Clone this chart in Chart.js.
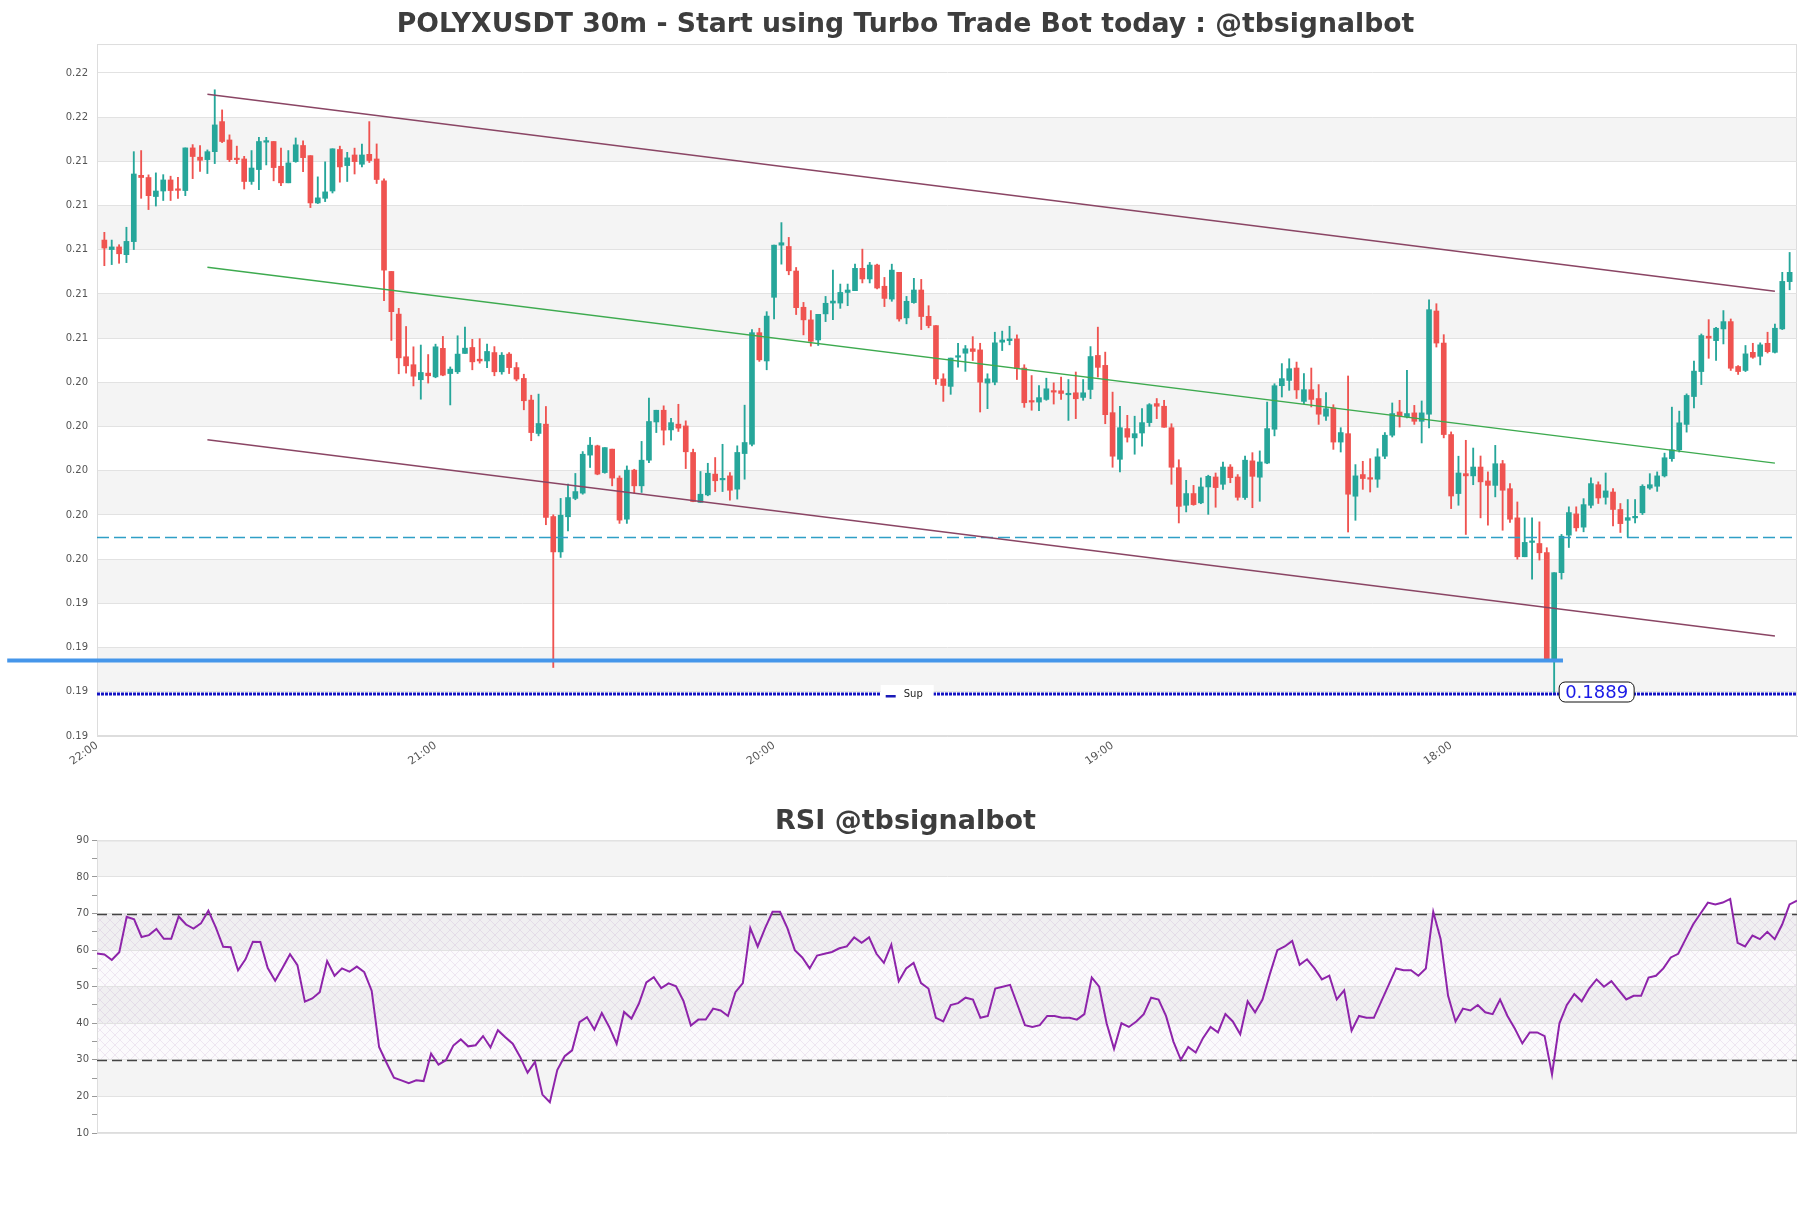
<!DOCTYPE html>
<html>
<head>
<meta charset="utf-8">
<script src="https://cdn.jsdelivr.net/npm/chart.js@4.4.1/dist/chart.umd.min.js"></script>
<style>
  body { margin: 0; background: #fff; }
  #main_box { position: absolute; left: 0; top: 0; width: 1811px; height: 800px; }
  #rsi_box { position: absolute; left: 0; top: 800px; width: 1811px; height: 408px; }
</style>
</head>
<body>
<div id="main_box"><canvas id="main_chart" width="1811" height="800"></canvas></div>
<div id="rsi_box"><canvas id="rsi_chart" width="1811" height="408"></canvas></div>
<script>
// candles, 30m (index 0 = first candle)
var opens = [
  0.20944,0.20901,0.20913,0.20878,0.20937,0.21237,0.21227,0.21141,0.21166,0.21216,
  0.21175,0.21168,0.21361,0.21319,0.21308,0.21344,0.21480,0.21397,0.21311,0.21311,
  0.21209,0.21263,0.21387,0.21390,0.21278,0.21203,0.21299,0.21372,0.21326,0.21112,
  0.21133,0.21166,0.21354,0.21281,0.21329,0.21287,0.21332,0.21311,0.21212,0.20802,
  0.20609,0.20416,0.20380,0.20312,0.20342,0.20325,0.20454,0.20340,0.20348,0.20431,
  0.20458,0.20405,0.20397,0.20435,0.20348,0.20428,0.20367,0.20318,0.20220,0.20069,
  0.20111,0.19693,0.19533,0.19692,0.19775,0.19799,0.19971,0.20013,0.19892,0.19998,
  0.19867,0.19681,0.19903,0.19832,0.19948,0.20121,0.20174,0.20085,0.20111,0.20103,
  0.19983,0.19757,0.19791,0.19885,0.19859,0.19877,0.19817,0.19978,0.20020,0.20525,
  0.20397,0.20685,0.20921,0.20915,0.20804,0.20640,0.20583,0.20492,0.20610,0.20659,
  0.20659,0.20707,0.20715,0.20816,0.20768,0.20831,0.20735,0.20677,0.20798,0.20592,
  0.20661,0.20718,0.20599,0.20557,0.20316,0.20282,0.20414,0.20432,0.20452,0.20447,
  0.20297,0.20301,0.20482,0.20489,0.20497,0.20365,0.20216,0.20211,0.20223,0.20262,
  0.20262,0.20244,0.20253,0.20232,0.20268,0.20422,0.20377,0.20163,0.19952,0.20091,
  0.20049,0.20071,0.20118,0.20204,0.20192,0.20095,0.19914,0.19744,0.19797,0.19755,
  0.19827,0.19872,0.19839,0.19917,0.19872,0.19779,0.19945,0.19871,0.19935,0.20088,
  0.20285,0.20309,0.20365,0.20214,0.20267,0.20227,0.20147,0.20184,0.20030,0.20068,
  0.19785,0.19883,0.19869,0.19862,0.19966,0.20061,0.20166,0.20144,0.20162,0.20124,
  0.20156,0.20623,0.20478,0.20064,0.19797,0.19887,0.19877,0.19917,0.19854,0.19834,
  0.19932,0.19819,0.19687,0.19511,0.19576,0.19571,0.19530,0.19044,0.19439,0.19609,
  0.19705,0.19645,0.19744,0.19837,0.19780,0.19804,0.19725,0.19676,0.19687,0.19710,
  0.19822,0.19830,0.19877,0.19955,0.19995,0.20110,0.20236,0.20349,0.20509,0.20489,
  0.20542,0.20575,0.20372,0.20354,0.20436,0.20418,0.20477,0.20436,0.20542,0.20756
];
var highs = [
  0.20979,0.20944,0.20923,0.21002,0.21344,0.21349,0.21239,0.21248,0.21240,0.21233,
  0.21228,0.21361,0.21376,0.21372,0.21352,0.21624,0.21533,0.21420,0.21369,0.21323,
  0.21349,0.21409,0.21409,0.21390,0.21360,0.21349,0.21406,0.21393,0.21326,0.21230,
  0.21298,0.21357,0.21369,0.21341,0.21360,0.21378,0.21480,0.21379,0.21221,0.20802,
  0.20635,0.20553,0.20461,0.20469,0.20426,0.20473,0.20508,0.20370,0.20511,0.20550,
  0.20495,0.20498,0.20473,0.20462,0.20435,0.20435,0.20390,0.20337,0.20242,0.20247,
  0.20191,0.19701,0.19775,0.19840,0.19888,0.19987,0.20051,0.20016,0.20005,0.19998,
  0.19877,0.19922,0.19907,0.20033,0.20229,0.20174,0.20194,0.20137,0.20201,0.20126,
  0.19998,0.19897,0.19934,0.19960,0.20020,0.19892,0.20013,0.20197,0.20539,0.20545,
  0.20620,0.20921,0.21023,0.20956,0.20820,0.20662,0.20625,0.20608,0.20689,0.20808,
  0.20745,0.20745,0.20835,0.20903,0.20843,0.20835,0.20775,0.20835,0.20798,0.20689,
  0.20771,0.20766,0.20647,0.20557,0.20339,0.20410,0.20477,0.20467,0.20507,0.20477,
  0.20339,0.20527,0.20532,0.20554,0.20515,0.20380,0.20331,0.20286,0.20319,0.20298,
  0.20324,0.20313,0.20347,0.20313,0.20462,0.20550,0.20437,0.20256,0.20192,0.20151,
  0.20147,0.20181,0.20204,0.20227,0.20219,0.20113,0.19950,0.19857,0.19834,0.19868,
  0.19880,0.19890,0.19940,0.19928,0.19883,0.19967,0.19982,0.19990,0.20211,0.20294,
  0.20385,0.20407,0.20392,0.20340,0.20365,0.20290,0.20254,0.20199,0.20095,0.20329,
  0.19928,0.19943,0.19955,0.20000,0.20073,0.20207,0.20219,0.20355,0.20196,0.20216,
  0.20674,0.20656,0.20516,0.20076,0.19966,0.20038,0.20003,0.19967,0.19895,0.20015,
  0.19947,0.19842,0.19759,0.19687,0.19687,0.19669,0.19552,0.19439,0.19612,0.19737,
  0.19737,0.19774,0.19868,0.19850,0.19890,0.19819,0.19752,0.19770,0.19770,0.19837,
  0.19887,0.19895,0.19980,0.20188,0.20170,0.20248,0.20396,0.20519,0.20584,0.20549,
  0.20625,0.20587,0.20376,0.20467,0.20477,0.20479,0.20527,0.20564,0.20798,0.20888
];
var lows = [
  0.20828,0.20833,0.20839,0.20842,0.20901,0.21133,0.21082,0.21098,0.21123,0.21123,
  0.21133,0.21145,0.21222,0.21255,0.21245,0.21290,0.21385,0.21299,0.21290,0.21175,
  0.21196,0.21172,0.21284,0.21212,0.21190,0.21203,0.21296,0.21254,0.21091,0.21109,
  0.21118,0.21157,0.21206,0.21209,0.21243,0.21275,0.21295,0.21200,0.20670,0.20490,
  0.20339,0.20342,0.20284,0.20224,0.20297,0.20321,0.20330,0.20198,0.20340,0.20431,
  0.20357,0.20387,0.20367,0.20330,0.20337,0.20340,0.20307,0.20176,0.20036,0.20058,
  0.19656,0.19010,0.19508,0.19628,0.19769,0.19794,0.19915,0.19882,0.19889,0.19832,
  0.19662,0.19662,0.19799,0.19802,0.19937,0.20073,0.20017,0.20039,0.20078,0.19910,
  0.19760,0.19757,0.19787,0.19806,0.19806,0.19767,0.19772,0.19862,0.20013,0.20395,
  0.20357,0.20587,0.20835,0.20787,0.20607,0.20515,0.20464,0.20467,0.20575,0.20584,
  0.20635,0.20647,0.20715,0.20750,0.20750,0.20723,0.20643,0.20667,0.20577,0.20565,
  0.20658,0.20539,0.20547,0.20291,0.20214,0.20246,0.20369,0.20350,0.20399,0.20166,
  0.20181,0.20289,0.20444,0.20470,0.20313,0.20187,0.20174,0.20172,0.20219,0.20202,
  0.20223,0.20128,0.20136,0.20219,0.20226,0.20324,0.20113,0.19916,0.19895,0.20030,
  0.19975,0.20011,0.20101,0.20136,0.20097,0.19839,0.19664,0.19714,0.19744,0.19751,
  0.19703,0.19735,0.19816,0.19846,0.19767,0.19771,0.19733,0.19762,0.19932,0.20058,
  0.20234,0.20264,0.20227,0.20204,0.20189,0.20110,0.20128,0.19997,0.19985,0.19623,
  0.19676,0.19816,0.19804,0.19825,0.19955,0.20053,0.20098,0.20139,0.20110,0.20026,
  0.20094,0.20460,0.20049,0.19729,0.19744,0.19612,0.19837,0.19687,0.19654,0.19782,
  0.19631,0.19666,0.19500,0.19511,0.19410,0.19496,0.19037,0.18889,0.19410,0.19553,
  0.19627,0.19624,0.19732,0.19752,0.19749,0.19651,0.19621,0.19601,0.19664,0.19702,
  0.19816,0.19807,0.19872,0.19943,0.19985,0.20075,0.20184,0.20290,0.20409,0.20399,
  0.20474,0.20354,0.20336,0.20349,0.20409,0.20379,0.20433,0.20433,0.20539,0.20719
];
var closes = [
  0.20908,0.20913,0.20882,0.20938,0.21243,0.21227,0.21145,0.21166,0.21216,0.21168,
  0.21169,0.21361,0.21322,0.21305,0.21344,0.21465,0.21390,0.21308,0.21308,0.21209,
  0.21270,0.21390,0.21390,0.21272,0.21203,0.21293,0.21375,0.21317,0.21112,0.21135,
  0.21162,0.21357,0.21275,0.21316,0.21299,0.21329,0.21304,0.21218,0.20808,0.20620,
  0.20411,0.20375,0.20328,0.20345,0.20330,0.20461,0.20333,0.20360,0.20428,0.20455,
  0.20393,0.20397,0.20440,0.20348,0.20423,0.20367,0.20315,0.20217,0.20073,0.20114,
  0.19689,0.19533,0.19699,0.19779,0.19806,0.19975,0.20016,0.19885,0.20005,0.19867,
  0.19677,0.19903,0.19832,0.19948,0.20123,0.20174,0.20084,0.20118,0.20093,0.19986,
  0.19761,0.19794,0.19889,0.19855,0.19865,0.19812,0.19983,0.20028,0.20525,0.20402,
  0.20600,0.20921,0.20932,0.20805,0.20638,0.20583,0.20486,0.20608,0.20658,0.20668,
  0.20707,0.20718,0.20816,0.20768,0.20831,0.20727,0.20680,0.20808,0.20587,0.20667,
  0.20718,0.20598,0.20557,0.20316,0.20286,0.20410,0.20420,0.20452,0.20440,0.20301,
  0.20316,0.20479,0.20492,0.20497,0.20362,0.20208,0.20211,0.20231,0.20271,0.20256,
  0.20250,0.20249,0.20226,0.20253,0.20417,0.20368,0.20154,0.19966,0.20095,0.20052,
  0.20068,0.20118,0.20199,0.20192,0.20097,0.19916,0.19739,0.19797,0.19747,0.19827,
  0.19875,0.19824,0.19917,0.19869,0.19780,0.19948,0.19875,0.19940,0.20091,0.20285,
  0.20317,0.20362,0.20266,0.20267,0.20223,0.20156,0.20181,0.20030,0.20073,0.19794,
  0.19877,0.19865,0.19862,0.19963,0.20061,0.20159,0.20148,0.20159,0.20124,0.20162,
  0.20629,0.20478,0.20064,0.19786,0.19890,0.19877,0.19917,0.19850,0.19834,0.19932,
  0.19812,0.19681,0.19511,0.19576,0.19579,0.19529,0.19040,0.19439,0.19604,0.19711,
  0.19642,0.19747,0.19842,0.19777,0.19809,0.19725,0.19661,0.19688,0.19694,0.19830,
  0.19837,0.19877,0.19959,0.19995,0.20117,0.20241,0.20351,0.20512,0.20500,0.20545,
  0.20575,0.20364,0.20349,0.20429,0.20414,0.20470,0.20439,0.20545,0.20757,0.20798
];
var rsi_values = [
  59.1,58.8,57.3,59.4,69.1,68.4,63.6,64.1,65.8,63.1,
  63.1,69.2,67.0,65.9,67.3,70.8,66.2,60.9,60.8,54.5,
  57.5,62.3,62.2,55.1,51.6,55.2,58.9,55.9,45.9,46.8,
  48.5,57.0,53.0,55.0,54.1,55.5,54.0,48.9,33.5,29.2,
  25.1,24.4,23.6,24.4,24.2,31.7,28.7,29.9,33.9,35.6,
  33.7,34.0,36.5,33.4,38.1,36.2,34.4,30.8,26.5,29.4,
  20.5,18.4,27.2,31.0,32.6,40.3,41.7,38.3,42.8,39.0,
  34.4,43.1,41.3,45.4,51.2,52.6,49.6,50.9,50.1,46.1,
  39.4,41.0,41.0,44.0,43.5,42.0,48.5,51.0,66.0,61.0,
  66.0,70.5,70.5,66.0,60.0,58.0,55.0,58.5,59.0,59.5,
  60.5,61.0,63.5,62.0,63.5,59.0,56.5,61.5,51.5,55.0,
  56.5,51.0,49.5,41.5,40.5,45.0,45.5,47.0,46.5,41.5,
  42.0,49.5,50.0,50.5,45.0,39.5,39.0,39.5,42.0,42.0,
  41.5,41.5,41.0,42.5,52.5,50.0,40.0,33.0,40.0,39.0,
  40.5,42.5,47.0,46.5,42.0,35.0,30.0,33.5,32.0,36.0,
  39.0,37.5,42.5,40.5,37.0,46.0,43.0,46.5,53.5,60.0,
  61.0,62.5,56.0,57.5,55.0,52.0,53.0,46.5,49.0,38.0,
  42.0,41.5,41.5,46.0,50.5,55.0,54.5,54.5,53.0,55.0,
  70.5,63.0,47.5,40.5,44.0,43.5,45.0,43.0,42.5,46.5,
  42.0,38.5,34.5,37.5,37.5,36.5,26.0,40.0,45.0,48.0,
  46.0,49.5,52.0,50.0,51.5,49.0,46.5,47.5,47.5,52.5,
  53.0,55.0,58.0,59.0,63.0,67.0,70.0,73.0,72.5,73.0,
  74.0,62.0,61.0,64.0,63.0,65.0,63.0,67.0,72.5,73.5
];

// axes
var y_ticks = [0.187, 0.189, 0.191, 0.193, 0.195, 0.197, 0.199, 0.201, 0.203, 0.205, 0.207, 0.209, 0.211, 0.213, 0.215, 0.217];
var y_tick_labels = ['0.19', '0.19', '0.19', '0.19', '0.20', '0.20', '0.20', '0.20', '0.20', '0.21', '0.21', '0.21', '0.21', '0.21', '0.22', '0.22'];
var x_tick_pos = [-1, 45, 91, 137, 183];
var x_tick_labels = ['22:00', '21:00', '20:00', '19:00', '18:00'];
var rsi_ticks = [10, 15, 20, 25, 30, 35, 40, 45, 50, 55, 60, 65, 70, 75, 80, 85, 90];

// drawn levels and trend channel
var channel_x = [14, 227];
var channel_upper = [0.21604, 0.20712];
var channel_mid = [0.20821, 0.19935];
var channel_lower = [0.20041, 0.19153];
var level_dashed = 0.19598;
var level_support = 0.19042;
var support_x = [-13.2, 198.2];
var sup_level = 0.1889;

var up_color = '#26a69a';
var down_color = '#ef5350';
var font_family = 'DejaVu Sans';

var make_line = function(xs, ys) {
  var pts = [];
  for (var i = 0; i < xs.length; i++) {
    pts.push({x: xs[i], y: ys[i]});
  }
  return pts;
};

var body_data = [];
var wick_data = [];
var candle_colors = [];
for (var i = 0; i < opens.length; i++) {
  body_data.push({x: i, y: [Math.min(opens[i], closes[i]), Math.max(opens[i], closes[i])]});
  wick_data.push({x: i, y: [lows[i], highs[i]]});
  candle_colors.push(closes[i] >= opens[i] ? up_color : down_color);
}
var low_index = lows.indexOf(Math.min.apply(null, lows));

var main_overlay = {
  id: 'main_overlay',
  beforeDraw: function(chart) {
    var ctx = chart.ctx;
    var area = chart.chartArea;
    var y = chart.scales.y;
    ctx.save();
    ctx.fillStyle = '#f4f4f4';
    for (var i = 1; i < y_ticks.length - 1; i += 2) {
      var top = y.getPixelForValue(y_ticks[i + 1]);
      var bottom = y.getPixelForValue(y_ticks[i]);
      ctx.fillRect(area.left, top, area.right - area.left, bottom - top);
    }
    ctx.strokeStyle = '#dddddd';
    ctx.lineWidth = 1;
    ctx.strokeRect(area.left + 0.5, area.top + 0.5, area.right - area.left - 1, area.bottom - area.top - 1);
    ctx.restore();
  },
  afterDatasetsDraw: function(chart) {
    var ctx = chart.ctx;
    var area = chart.chartArea;
    var x = chart.scales.x;
    var y = chart.scales.y;
    var sy = y.getPixelForValue(sup_level);
    ctx.save();
    // little legend for the Sup line
    var lx = area.left + (area.right - area.left) * 0.461;
    ctx.fillStyle = '#ffffff';
    ctx.fillRect(lx, sy - 9, 53, 17);
    ctx.fillStyle = '#1a1ab8';
    ctx.fillRect(lx + 5, sy + 1, 10, 2.5);
    ctx.fillStyle = '#222222';
    ctx.font = '10px ' + font_family;
    ctx.textBaseline = 'middle';
    ctx.fillText('Sup', lx + 23, sy);
    // price tag at the low
    var bx = x.getPixelForValue(low_index) + 5;
    var bw = 75, bh = 20;
    ctx.beginPath();
    ctx.roundRect(bx, sy - bh / 2 - 2, bw, bh, 6);
    ctx.fillStyle = '#ffffff';
    ctx.fill();
    ctx.strokeStyle = '#111111';
    ctx.lineWidth = 1;
    ctx.stroke();
    ctx.fillStyle = '#1a1ae6';
    ctx.font = '18px ' + font_family;
    ctx.textAlign = 'center';
    ctx.fillText(sup_level.toFixed(4), bx + bw / 2, sy - 1);
    ctx.restore();
  }
};

var main_ctx = document.getElementById('main_chart').getContext('2d');
var main_chart = new Chart(main_ctx, {
  type: 'bar',
  data: {
    datasets: [
      {
        type: 'line',
        data: make_line(channel_x, channel_upper),
        borderColor: '#8a4564',
        borderWidth: 1.5,
        pointRadius: 0,
        order: 1
      },
      {
        type: 'line',
        data: make_line(channel_x, channel_mid),
        borderColor: '#3daa4f',
        borderWidth: 1.3,
        pointRadius: 0,
        order: 1
      },
      {
        type: 'line',
        data: make_line(channel_x, channel_lower),
        borderColor: '#8a4564',
        borderWidth: 1.5,
        pointRadius: 0,
        order: 1
      },
      {
        type: 'line',
        data: make_line([-1, 230], [level_dashed, level_dashed]),
        borderColor: '#2f9fc6',
        borderWidth: 1.5,
        borderDash: [12, 5],
        pointRadius: 0,
        order: 1
      },
      {
        type: 'line',
        data: make_line(support_x, [level_support, level_support]),
        borderColor: '#4596ea',
        borderWidth: 4,
        pointRadius: 0,
        clip: false,
        order: 0
      },
      {
        type: 'line',
        data: make_line([-1, 230], [sup_level, sup_level]),
        borderColor: '#1414c4',
        borderWidth: 3,
        borderDash: [3, 1],
        pointRadius: 0,
        order: 0
      },
      {
        label: 'wicks',
        data: wick_data,
        backgroundColor: candle_colors,
        barThickness: 1.2,
        grouped: false,
        order: 10
      },
      {
        label: 'bodies',
        data: body_data,
        backgroundColor: candle_colors,
        barThickness: 5,
        minBarLength: 1.5,
        grouped: false,
        order: 9
      }
    ]
  },
  options: {
    responsive: false,
    animation: false,
    // equal side padding keeps the title centred on the page
    layout: { padding: { left: 14, right: 14, top: 0, bottom: 0 } },
    plugins: {
      legend: { display: false },
      tooltip: { enabled: false },
      title: {
        display: true,
        text: 'POLYXUSDT 30m - Start using Turbo Trade Bot today : @tbsignalbot',
        color: '#3d3d3d',
        font: { family: font_family, size: 26.7, weight: 'bold' },
        padding: { top: 9, bottom: 3 }
      }
    },
    scales: {
      x: {
        type: 'linear',
        min: -1,
        max: 230,
        offset: false,
        grid: { display: false, drawTicks: false, offset: false },
        border: { display: true, color: '#dddddd' },
        afterBuildTicks: function(scale) {
          scale.ticks = x_tick_pos.map(function(v) { return {value: v}; });
        },
        afterFit: function(scale) { scale.height = 64; },
        ticks: {
          autoSkip: false,
          minRotation: 35,
          maxRotation: 35,
          padding: 3,
          color: '#555555',
          font: { family: font_family, size: 11 },
          callback: function(value, index) { return x_tick_labels[index]; }
        }
      },
      y: {
        min: 0.187,
        max: 0.21831,
        grid: { color: '#e2e2e2', drawTicks: false },
        border: { display: true, color: '#dddddd' },
        afterBuildTicks: function(scale) {
          scale.ticks = y_ticks.map(function(v) { return {value: v}; });
        },
        afterFit: function(scale) { scale.width = 83; },
        ticks: {
          padding: 9,
          color: '#555555',
          font: { family: font_family, size: 10 },
          callback: function(value, index) { return y_tick_labels[index]; }
        }
      }
    }
  },
  plugins: [main_overlay]
});

// RSI panel
var make_hatch = function(ctx) {
  var c = document.createElement('canvas');
  c.width = 10;
  c.height = 10;
  var g = c.getContext('2d');
  g.strokeStyle = 'rgba(150, 100, 175, 0.20)';
  g.lineWidth = 0.7;
  g.beginPath();
  g.moveTo(0, 0); g.lineTo(10, 10);
  g.moveTo(10, 0); g.lineTo(0, 10);
  g.stroke();
  return ctx.createPattern(c, 'repeat');
};

var rsi_overlay = {
  id: 'rsi_overlay',
  beforeDraw: function(chart) {
    var ctx = chart.ctx;
    var area = chart.chartArea;
    var y = chart.scales.y;
    var w = area.right - area.left;
    ctx.save();
    ctx.fillStyle = '#f4f4f4';
    for (var v = 20; v < 90; v += 20) {
      var top = y.getPixelForValue(v + 10);
      ctx.fillRect(area.left, top, w, y.getPixelForValue(v) - top);
    }
    var t70 = y.getPixelForValue(70);
    ctx.fillStyle = 'rgba(200, 180, 215, 0.07)';
    ctx.fillRect(area.left, t70, w, y.getPixelForValue(30) - t70);
    ctx.fillStyle = make_hatch(ctx);
    ctx.fillRect(area.left, t70, w, y.getPixelForValue(30) - t70);
    ctx.strokeStyle = '#dddddd';
    ctx.lineWidth = 1;
    ctx.strokeRect(area.left + 0.5, area.top + 0.5, w - 1, area.bottom - area.top - 1);
    ctx.restore();
  },
  beforeDatasetsDraw: function(chart) {
    var ctx = chart.ctx;
    var area = chart.chartArea;
    var y = chart.scales.y;
    ctx.save();
    ctx.strokeStyle = '#444444';
    ctx.lineWidth = 1.3;
    ctx.setLineDash([10, 5]);
    [70, 30].forEach(function(v) {
      var py = Math.round(y.getPixelForValue(v)) + 0.5;
      ctx.beginPath();
      ctx.moveTo(area.left, py);
      ctx.lineTo(area.right, py);
      ctx.stroke();
    });
    ctx.restore();
  }
};

var rsi_ctx = document.getElementById('rsi_chart').getContext('2d');
var rsi_chart = new Chart(rsi_ctx, {
  type: 'line',
  data: {
    datasets: [{
      data: rsi_values.map(function(v, i) { return {x: i, y: v}; }),
      borderColor: '#8e24aa',
      borderWidth: 2,
      pointRadius: 0,
      tension: 0
    }]
  },
  options: {
    responsive: false,
    animation: false,
    layout: { padding: { left: 14, right: 14, top: 0, bottom: 75 } },
    plugins: {
      legend: { display: false },
      tooltip: { enabled: false },
      title: {
        display: true,
        text: 'RSI @tbsignalbot',
        color: '#3d3d3d',
        font: { family: font_family, size: 27, weight: 'bold' },
        padding: { top: 6, bottom: 2 }
      }
    },
    scales: {
      x: {
        type: 'linear',
        min: 0,
        max: rsi_values.length - 1,
        display: false
      },
      y: {
        min: 10,
        max: 90,
        border: { display: true, color: '#dddddd' },
        grid: {
          color: function(ctx) { return ctx.tick && ctx.tick.value % 10 === 0 ? '#e2e2e2' : 'rgba(0,0,0,0)'; },
          tickColor: '#999999',
          tickLength: 5
        },
        afterBuildTicks: function(scale) {
          scale.ticks = rsi_ticks.map(function(v) { return {value: v}; });
        },
        afterFit: function(scale) { scale.width = 83; },
        ticks: {
          padding: 3,
          color: '#555555',
          font: { family: font_family, size: 10 },
          callback: function(value) { return value % 10 === 0 ? String(value) : ''; }
        }
      }
    }
  },
  plugins: [rsi_overlay]
});
</script>
</body>
</html>
